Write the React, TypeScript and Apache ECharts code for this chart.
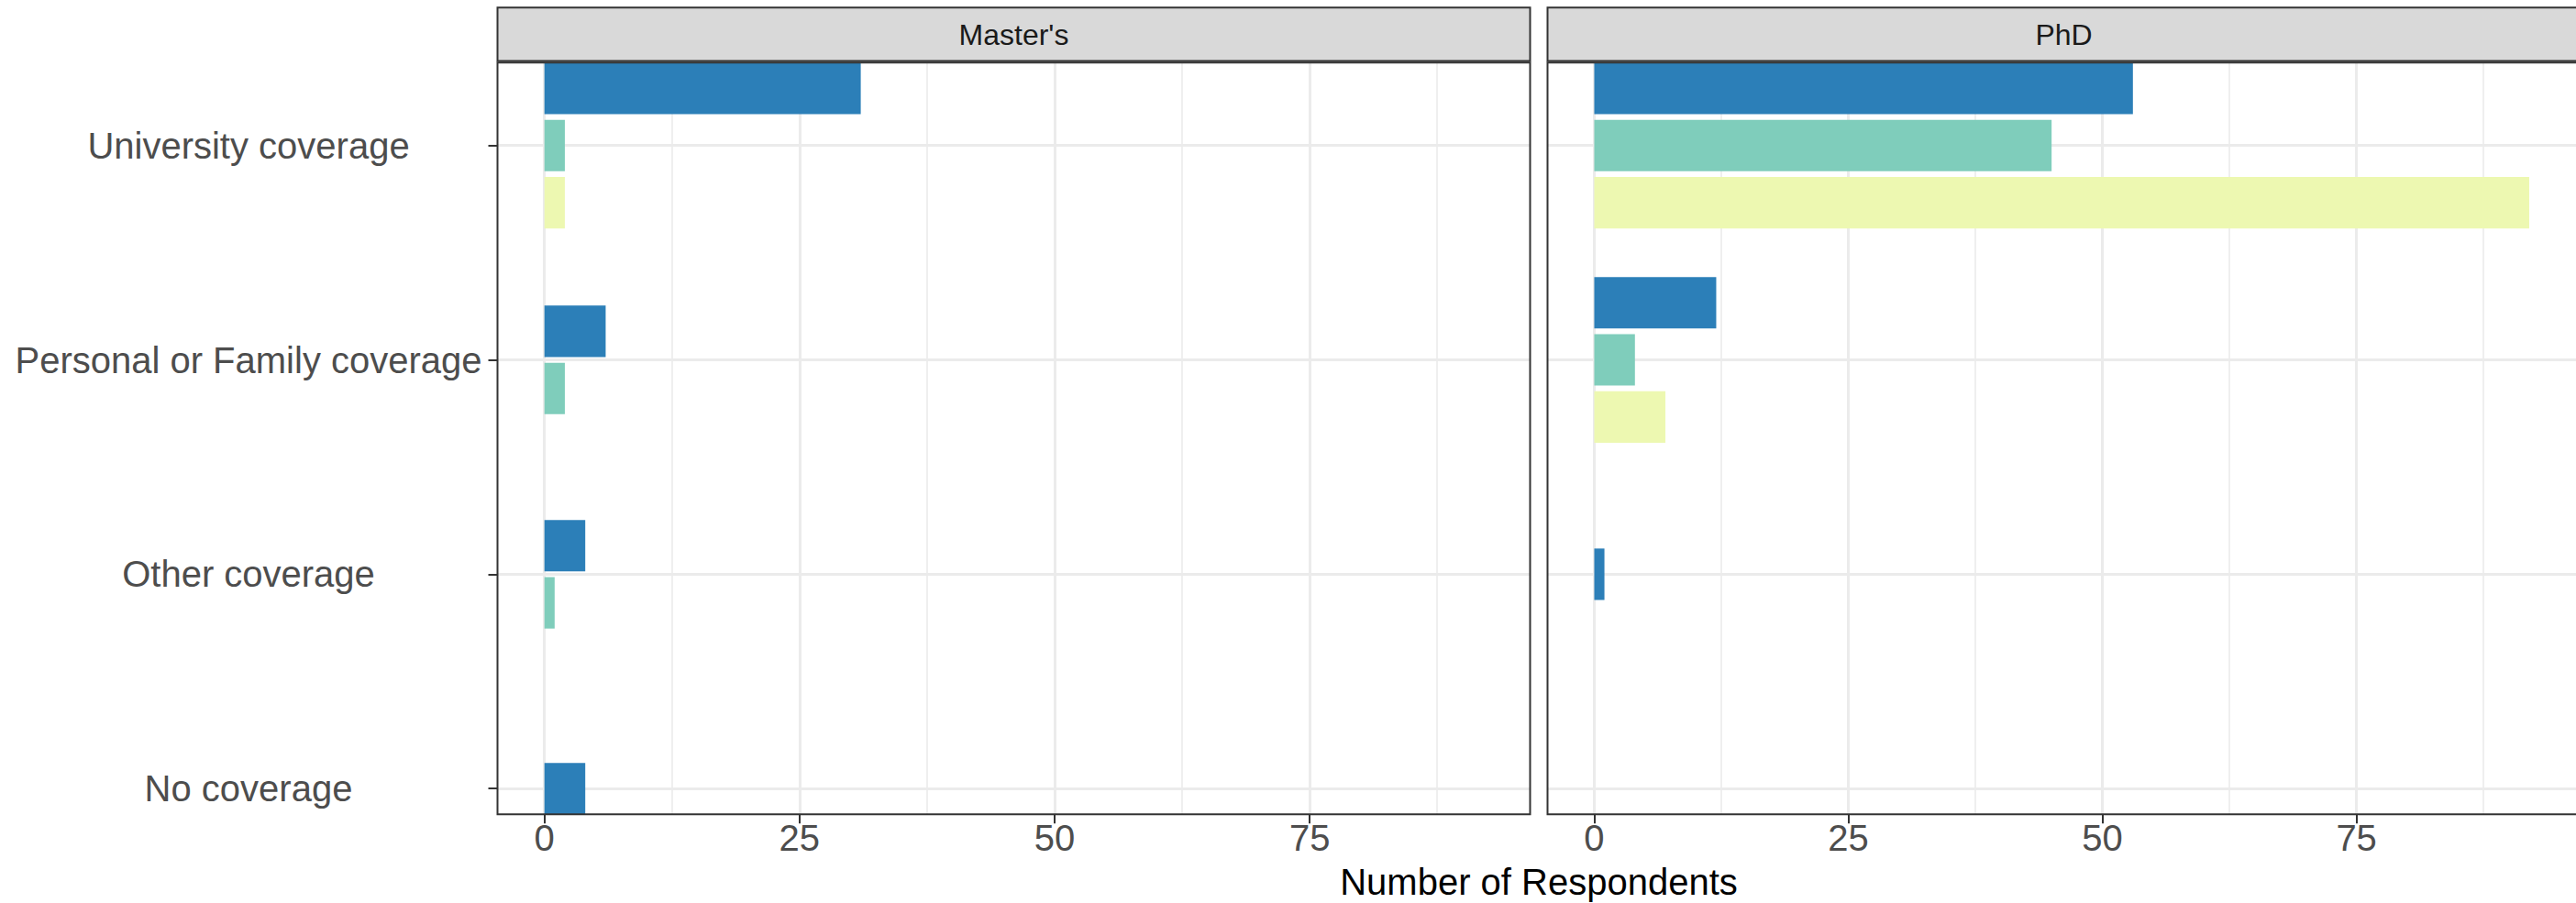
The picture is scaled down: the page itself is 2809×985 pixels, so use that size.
import React, { useEffect, useRef } from "react";
import * as echarts from "echarts";

// ---- data ----
const categories = [
  "University coverage",
  "Personal or Family coverage",
  "Other coverage",
  "No coverage",
];
const panelNames = ["Master's", "PhD"];
const groupNames = ["Group 1", "Group 2", "Group 3"];
const groupColors = ["#2C7FB8", "#7FCDBB", "#EDF8B1"];

const mastersGroup1: (number | null)[] = [31, 6, 4, 4];
const mastersGroup2: (number | null)[] = [2, 2, 1, null];
const mastersGroup3: (number | null)[] = [2, null, null, null];
const phdGroup1: (number | null)[] = [53, 12, 1, null];
const phdGroup2: (number | null)[] = [45, 4, null, null];
const phdGroup3: (number | null)[] = [92, 7, null, null];

const xTicks = [0, 25, 50, 75];
const xMinorTicks = [12.5, 37.5, 62.5, 87.5];
const xTitle = "Number of Respondents";

// ---- layout ----
const W = 2809;
const H = 985;
const FONT = "Liberation Sans, Arial, Helvetica, sans-serif";
const PANEL_TOP = 68.3;
const PANEL_H = 820;
const PANEL_W = 1126;
const PANEL_X = [542.5, 1687.5];
const X_MIN = -4.6;
const X_MAX = 96.6;
const Y_MIN = -0.3867;
const Y_MAX = 3.12;
const SLOT = 0.2667;
const BAR = 0.24;

export default function App() {
  const ref = useRef<HTMLDivElement>(null);

  useEffect(() => {
    if (!ref.current) return;
    const chart = echarts.init(ref.current, undefined, { renderer: "svg" });

    const panelData = [
      [mastersGroup1, mastersGroup2, mastersGroup3],
      [phdGroup1, phdGroup2, phdGroup3],
    ];

    const grids = PANEL_X.map((x) => ({
      left: x,
      top: PANEL_TOP,
      width: PANEL_W,
      height: PANEL_H,
      show: false,
      containLabel: false,
    }));

    const xAxes: any[] = [];
    const yAxes: any[] = [];
    PANEL_X.forEach((_, p) => {
      xAxes.push({
        type: "value",
        gridIndex: p,
        min: X_MIN,
        max: X_MAX,
        axisLine: { show: false, onZero: false },
        axisTick: {
          show: true,
          customValues: xTicks,
          length: 10,
          lineStyle: { color: "#333333", width: 2 },
        },
        axisLabel: {
          show: true,
          customValues: xTicks,
          color: "#4D4D4D",
          fontSize: 40,
          fontFamily: FONT,
          margin: 6,
        },
        splitLine: { show: true, lineStyle: { color: "#EBEBEB", width: 3 } },
      });
    });
    PANEL_X.forEach((_, p) => {
      xAxes.push({
        type: "value",
        gridIndex: p,
        min: X_MIN,
        max: X_MAX,
        axisLine: { show: false, onZero: false },
        axisTick: { show: false, customValues: xMinorTicks },
        axisLabel: { show: false, customValues: xMinorTicks },
        splitLine: { show: true, lineStyle: { color: "#EBEBEB", width: 1.6 } },
      });
    });
    PANEL_X.forEach((_, p) => {
      yAxes.push({
        type: "value",
        gridIndex: p,
        min: Y_MIN,
        max: Y_MAX,
        inverse: true,
        axisLine: { show: false, onZero: false },
        axisTick: {
          show: p === 0,
          customValues: [0, 1, 2, 3],
          length: 10,
          lineStyle: { color: "#333333", width: 2 },
        },
        axisLabel: {
          show: p === 0,
          customValues: [0, 1, 2, 3],
          formatter: (v: number) => categories[Math.round(v)] ?? "",
          color: "#4D4D4D",
          fontSize: 40,
          fontFamily: FONT,
          align: "center",
          margin: PANEL_X[0] - 271,
        },
        splitLine: { show: true, lineStyle: { color: "#EBEBEB", width: 3 } },
      });
    });

    const series: any[] = [];
    panelData.forEach((groups, p) => {
      groups.forEach((vals, g) => {
        const data: number[][] = [];
        vals.forEach((v, c) => {
          if (v == null) return;
          const present = groups
            .map((gg, k) => (gg[c] != null ? k : -1))
            .filter((k) => k >= 0);
          const n = present.length;
          const j = present.indexOf(g);
          data.push([v, c, j - (n - 1) / 2]);
        });
        const color = groupColors[g];
        series.push({
          type: "custom",
          name: `${panelNames[p]} - ${groupNames[g]}`,
          xAxisIndex: p,
          yAxisIndex: p,
          encode: { x: 0, y: 1 },
          data,
          renderItem: (params: any, api: any) => {
            const v = api.value(0);
            const c = api.value(1);
            const off = api.value(2);
            const yc = c + off * SLOT;
            const p0 = api.coord([0, yc - BAR / 2]);
            const p1 = api.coord([v, yc + BAR / 2]);
            return {
              type: "rect",
              shape: {
                x: Math.min(p0[0], p1[0]),
                y: Math.min(p0[1], p1[1]),
                width: Math.abs(p1[0] - p0[0]),
                height: Math.abs(p1[1] - p0[1]),
              },
              style: { fill: color },
            };
          },
        });
      });
    });

    const graphics: any[] = [];
    PANEL_X.forEach((x, p) => {
      graphics.push({
        type: "rect",
        z: 100,
        shape: { x, y: 8.3, width: PANEL_W, height: 58.2 },
        style: { fill: "#D9D9D9", stroke: "#333333", lineWidth: 2 },
      });
      graphics.push({
        type: "text",
        z: 101,
        x: x + PANEL_W / 2,
        y: 37.6,
        style: {
          text: panelNames[p],
          fill: "#1A1A1A",
          font: `32px ${FONT}`,
          textAlign: "center",
          textVerticalAlign: "middle",
        },
      });
      graphics.push({
        type: "rect",
        z: 100,
        shape: { x, y: PANEL_TOP, width: PANEL_W, height: PANEL_H },
        style: { fill: "none", stroke: "#333333", lineWidth: 2 },
      });
    });
    graphics.push({
      type: "text",
      z: 101,
      x: (PANEL_X[0] + PANEL_X[1] + PANEL_W) / 2,
      y: 962,
      style: {
        text: xTitle,
        fill: "#000000",
        font: `40px ${FONT}`,
        textAlign: "center",
        textVerticalAlign: "middle",
      },
    });

    chart.setOption({
      animation: false,
      backgroundColor: "#FFFFFF",
      grid: grids,
      xAxis: xAxes,
      yAxis: yAxes,
      series,
      graphic: graphics,
    });

    return () => chart.dispose();
  }, []);

  return (
    <div
      ref={ref}
      style={{ position: "absolute", left: 0, top: 0, width: W, height: H }}
    />
  );
}
